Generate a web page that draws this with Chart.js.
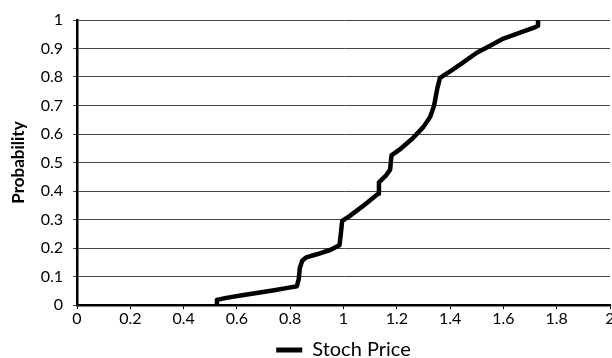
<!DOCTYPE html>
<html>
<head>
<meta charset="utf-8">
<script src="https://cdn.jsdelivr.net/npm/chart.js@4/dist/chart.umd.min.js"></script>
<style>
  html, body { margin: 0; padding: 0; background: #fff; }
  #wrap { width: 612px; height: 358px; }
</style>
</head>
<body>
<div id="wrap"><canvas id="chart" width="612" height="358"></canvas></div>
<script>
const seriesLabel = 'Stoch Price';
const yTitle = 'Probability';

// price (x) and cumulative probability (y)
const priceValues = [0.525, 0.525, 0.56, 0.62, 0.68, 0.74, 0.79, 0.825, 0.832, 0.836, 0.845, 0.86, 0.9, 0.95, 0.985, 0.99, 0.995, 1.02, 1.07, 1.13, 1.133, 1.16, 1.175, 1.18, 1.21, 1.26, 1.3, 1.325, 1.34, 1.352, 1.362, 1.4, 1.44, 1.5, 1.55, 1.6, 1.66, 1.72, 1.73, 1.73];
const probValues = [0, 0.018, 0.025, 0.034, 0.043, 0.052, 0.06, 0.066, 0.09, 0.13, 0.155, 0.167, 0.178, 0.193, 0.21, 0.25, 0.295, 0.31, 0.345, 0.39, 0.43, 0.455, 0.475, 0.525, 0.545, 0.585, 0.625, 0.66, 0.7, 0.76, 0.797, 0.82, 0.845, 0.885, 0.91, 0.935, 0.955, 0.975, 0.98, 1.0];

const xTickLabels = ['0', '0.2', '0.4', '0.6', '0.8', '1', '1.2', '1.4', '1.6', '1.8', '2'];
const yTickLabels = ['0', '0.1', '0.2', '0.3', '0.4', '0.5', '0.6', '0.7', '0.8', '0.9', '1'];

Chart.defaults.font.family = 'Lato, "Open Sans", sans-serif';
Chart.defaults.color = '#000';

const ctx = document.getElementById('chart').getContext('2d');
const chart = new Chart(ctx, {
    type: 'scatter',
    data: {
        datasets: [{
            label: seriesLabel,
            data: priceValues.map((p, i) => ({ x: p, y: probValues[i] })),
            showLine: true,
            borderColor: '#000',
            backgroundColor: '#000',
            borderWidth: 4.5,
            pointRadius: 0,
            tension: 0,
            borderJoinStyle: 'round',
            borderCapStyle: 'butt'
        }]
    },
    options: {
        responsive: false,
        animation: false,
        devicePixelRatio: 1,
        // negative bottom padding pushes the legend down to the canvas edge
        layout: { padding: { top: 20, right: 2, left: 0, bottom: -12 } },
        plugins: {
            tooltip: { enabled: false },
            legend: {
                position: 'bottom',
                fullSize: false,
                labels: {
                    font: { size: 20 },
                    boxWidth: 26,
                    boxHeight: 5,
                    padding: 0,
                    generateLabels: () => [{
                        text: seriesLabel,
                        fillStyle: '#000',
                        strokeStyle: '#000',
                        lineWidth: 0,
                        hidden: false,
                        datasetIndex: 0
                    }]
                }
            }
        },
        scales: {
            x: {
                type: 'linear',
                min: 0,
                max: 2,
                ticks: {
                    stepSize: 0.2,
                    font: { size: 16 },
                    padding: 0,
                    maxRotation: 0,
                    callback: (v, i) => xTickLabels[i]
                },
                grid: { drawOnChartArea: false, drawTicks: true, tickLength: 4, color: '#000' },
                border: { display: true, color: '#000', width: 2.5 },
                afterFit: scale => {
                    scale.height = 35;
                    scale.paddingLeft = 0;
                    scale.paddingRight = 0;
                }
            },
            y: {
                min: 0,
                max: 1,
                ticks: {
                    stepSize: 0.1,
                    font: { size: 16 },
                    padding: 10,
                    callback: (v, i) => yTickLabels[i]
                },
                grid: { color: '#444', lineWidth: 1, tickLength: 4 },
                border: { display: true, color: '#000', width: 2.5 },
                title: {
                    display: true,
                    text: yTitle,
                    font: { size: 17, weight: 'bold' },
                    padding: { top: 8, bottom: 0 }
                },
                afterFit: scale => {
                    scale.width = 77;
                    scale.paddingTop = 0;
                    scale.paddingBottom = 0;
                }
            }
        }
    }
});
</script>
</body>
</html>
